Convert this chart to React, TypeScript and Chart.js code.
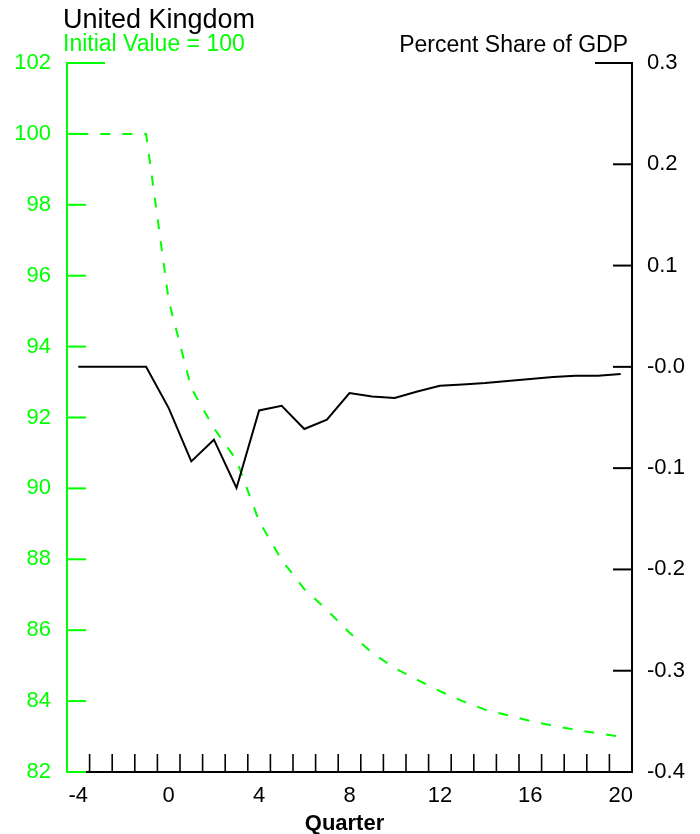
import React, { useEffect, useRef } from 'react';
import { Chart, registerables } from 'chart.js';

Chart.register(...registerables);

// ---- data ----
const quarters = [-4, -3, -2, -1, 0, 1, 2, 3, 4, 5, 6, 7, 8, 9, 10, 11, 12, 13, 14, 15, 16, 17, 18, 19, 20];
// Initial value = 100 (left axis, green dashed)
const outputIndex = [100, 100, 100, 100, 95.3, 92.83, 91.7, 90.8, 89.07, 87.98, 87.16, 86.57, 85.93, 85.36, 84.93, 84.6, 84.28, 84.0, 83.76, 83.6, 83.44, 83.31, 83.19, 83.09, 83.0];
// Percent share of GDP (right axis, black)
const gdpShare = [0, 0, 0, 0, -0.0407, -0.0933, -0.0719, -0.1196, -0.043, -0.0384, -0.0614, -0.0522, -0.0259, -0.0292, -0.0308, -0.0243, -0.0186, -0.0174, -0.016, -0.014, -0.012, -0.01, -0.0088, -0.0088, -0.0071];
const leftTicks = [82, 84, 86, 88, 90, 92, 94, 96, 98, 100, 102];
const rightTicks = [-0.4, -0.3, -0.2, -0.1, 0.0, 0.1, 0.2, 0.3];
const xLabelStep = 4;

const titleText = 'United Kingdom';
const leftAxisTitle = 'Initial Value = 100';
const rightAxisTitle = 'Percent Share of GDP';
const xAxisTitle = 'Quarter';

const GREEN = '#00ff00';
const BLACK = '#000000';
const FONT = '"Liberation Sans", Arial, Helvetica, sans-serif';

function fmtRight(v: number): string {
  const r = Math.round(v * 10) / 10;
  if (r === 0) return '-0.0';
  return r.toFixed(1);
}

const axesPlugin = {
  id: 'customAxes',
  afterDatasetsDraw(chart: any) {
    const ctx = chart.ctx;
    const { left, right, top, bottom } = chart.chartArea;
    const xs = chart.scales.x;
    const yl = chart.scales.yL;
    const yr = chart.scales.yR;
    ctx.save();
    ctx.lineCap = 'butt';

    // bottom axis
    ctx.strokeStyle = BLACK;
    ctx.lineWidth = 2;
    ctx.beginPath();
    ctx.moveTo(left, bottom);
    ctx.lineTo(right + 1, bottom);
    ctx.stroke();
    ctx.lineWidth = 1.6;
    for (let i = 0; i < quarters.length - 1; i++) {
      const x = (xs.getPixelForValue(i) + xs.getPixelForValue(i + 1)) / 2;
      ctx.beginPath();
      ctx.moveTo(x, bottom);
      ctx.lineTo(x, bottom - 18);
      ctx.stroke();
    }

    // right axis
    ctx.strokeStyle = BLACK;
    ctx.lineWidth = 2;
    ctx.beginPath();
    ctx.moveTo(right, top - 1);
    ctx.lineTo(right, bottom + 1);
    ctx.stroke();
    rightTicks.forEach((v) => {
      const y = yr.getPixelForValue(v);
      const len = Math.abs(v - rightTicks[rightTicks.length - 1]) < 1e-9 ? 37 : 19;
      ctx.beginPath();
      ctx.moveTo(right, y);
      ctx.lineTo(right - len, y);
      ctx.stroke();
    });

    // left axis
    ctx.strokeStyle = GREEN;
    ctx.lineWidth = 2;
    ctx.beginPath();
    ctx.moveTo(left, top - 1);
    ctx.lineTo(left, bottom + 1);
    ctx.stroke();
    leftTicks.forEach((v) => {
      const y = yl.getPixelForValue(v);
      const len = v === leftTicks[leftTicks.length - 1] ? 38 : 19;
      ctx.beginPath();
      ctx.moveTo(left, y);
      ctx.lineTo(left + len, y);
      ctx.stroke();
    });

    // texts
    ctx.textBaseline = 'alphabetic';
    ctx.fillStyle = BLACK;
    ctx.textAlign = 'left';
    ctx.font = `27px ${FONT}`;
    ctx.fillText(titleText, 63, 28);
    ctx.fillStyle = GREEN;
    ctx.font = `23px ${FONT}`;
    ctx.fillText(leftAxisTitle, 63, 51);
    ctx.fillStyle = BLACK;
    ctx.textAlign = 'right';
    ctx.fillText(rightAxisTitle, 628, 52);
    ctx.textAlign = 'center';
    ctx.font = `bold 22px ${FONT}`;
    ctx.fillText(xAxisTitle, (left + right) / 2 - 5, 830);
    ctx.restore();
  },
};

export default function App() {
  const ref = useRef<HTMLCanvasElement | null>(null);

  useEffect(() => {
    if (!ref.current) return;
    const chart = new Chart(ref.current, {
      type: 'line',
      data: {
        labels: quarters.map(String),
        datasets: [
          {
            label: rightAxisTitle,
            data: gdpShare,
            yAxisID: 'yR',
            borderColor: BLACK,
            borderWidth: 2,
            pointRadius: 0,
            tension: 0,
            fill: false,
          },
          {
            label: leftAxisTitle,
            data: outputIndex,
            yAxisID: 'yL',
            borderColor: GREEN,
            borderWidth: 2,
            borderDash: [10, 12],
            pointRadius: 0,
            tension: 0,
            fill: false,
          },
        ],
      },
      options: {
        animation: false,
        responsive: false,
        maintainAspectRatio: false,
        devicePixelRatio: 1,
        layout: { padding: { top: 63, left: 0, right: 0, bottom: 0 } },
        plugins: { legend: { display: false }, tooltip: { enabled: false }, title: { display: false } },
        scales: {
          x: {
            type: 'category',
            offset: true,
            grid: { display: false, drawTicks: false, tickLength: 0 },
            border: { display: false },
            ticks: {
              autoSkip: false,
              maxRotation: 0,
              minRotation: 0,
              color: BLACK,
              padding: 11,
              font: { family: FONT, size: 22 },
              callback: (_v: any, i: number) => (quarters[i] % xLabelStep === 0 ? String(quarters[i]) : ''),
            },
            afterFit: (s: any) => {
              s.height = 62;
            },
          },
          yL: {
            type: 'linear',
            position: 'left',
            min: leftTicks[0],
            max: leftTicks[leftTicks.length - 1],
            grid: { display: false, drawTicks: false, tickLength: 0 },
            border: { display: false },
            afterBuildTicks: (s: any) => {
              s.ticks = leftTicks.map((v) => ({ value: v }));
            },
            ticks: {
              color: GREEN,
              padding: 16,
              font: { family: FONT, size: 22 },
              callback: (v: any) => String(v),
            },
            afterFit: (s: any) => {
              s.width = 67;
            },
          },
          yR: {
            type: 'linear',
            position: 'right',
            min: rightTicks[0],
            max: rightTicks[rightTicks.length - 1],
            grid: { display: false, drawTicks: false, tickLength: 0 },
            border: { display: false },
            afterBuildTicks: (s: any) => {
              s.ticks = rightTicks.map((v) => ({ value: v }));
            },
            ticks: {
              color: BLACK,
              padding: 15,
              font: { family: FONT, size: 22 },
              callback: (v: any) => fmtRight(Number(v)),
            },
            afterFit: (s: any) => {
              s.width = 68;
            },
          },
        },
      } as any,
      plugins: [axesPlugin],
    });
    return () => chart.destroy();
  }, []);

  return (
    <div style={{ position: 'fixed', left: 0, top: 0, width: 700, height: 834, background: '#fff' }}>
      <canvas ref={ref} width={700} height={834} style={{ display: 'block', width: 700, height: 834 }} />
    </div>
  );
}
